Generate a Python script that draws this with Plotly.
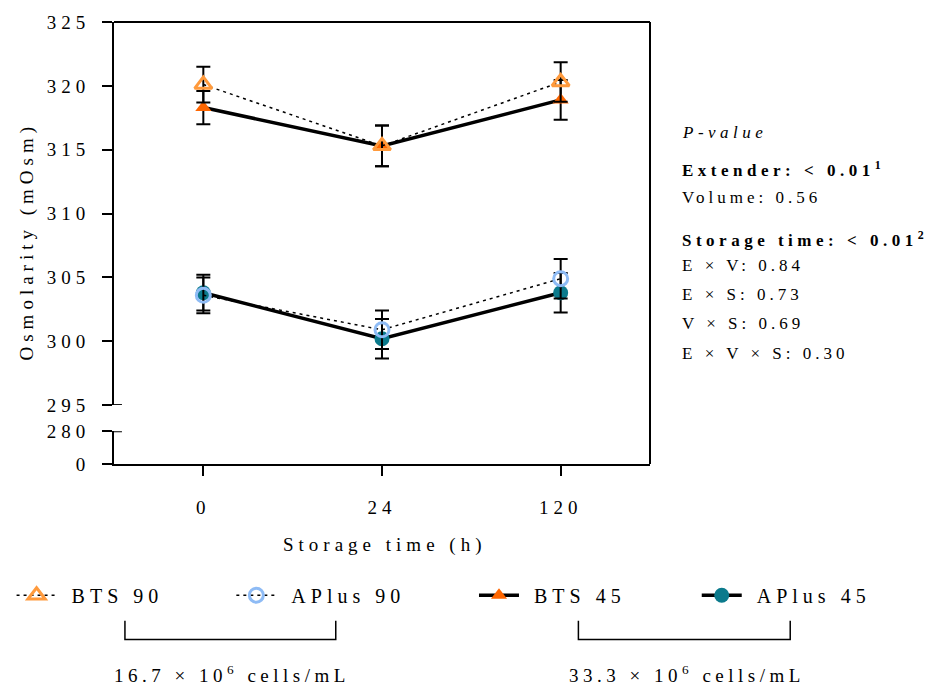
import plotly.graph_objects as go

# ---------------- data ----------------
times = ["0", "24", "120"]

bts90 = [320.1, 315.3, 320.3]
bts90_err = [1.4, 1.6, 1.55]
aplus90 = [303.6, 300.9, 304.9]
aplus90_err = [1.4, 1.5, 1.55]
bts45 = [318.3, 315.3, 318.9]
bts45_err = [1.3, 1.6, 1.55]
aplus45 = [303.8, 300.2, 303.8]
aplus45_err = [1.4, 1.55, 1.55]

upper_ticks = [295, 300, 305, 310, 315, 320, 325]
lower_ticks = [0, 280]

pvalue_lines = [
    "<i>P-value</i>",
    "<b>Extender: &lt; 0.01<sup>1</sup></b>",
    "Volume: 0.56",
    "<b>Storage time: &lt; 0.01<sup>2</sup></b>",
    "E × V: 0.84",
    "E × S: 0.73",
    "V × S: 0.69",
    "E × V × S: 0.30",
]
pvalue_spacing = [4.5, 4.5, 4, 4.5, 4, 4, 4, 4]
group_labels = ["16.7 × 10<sup>6</sup> cells/mL", "33.3 × 10<sup>6</sup> cells/mL"]

# ---------------- geometry helpers ----------------
W, H = 930, 689
ML, MR, MT, MB = 111, 280, 16, 225
PW, PH = W - ML - MR, H - MT - MB
FONT = "Liberation Serif"


def px(x):
    return (x - ML) / PW


def py(y):
    return (H - MB - y) / PH


def sp(text, s):
    return f'<span style="letter-spacing:{s}px">{text}</span>'


fig = go.Figure()

series = [
    ("BTS 45", bts45, bts45_err, "triangle-up", "#FF6600", "solid", 3.5, 14, 0, "legend3"),
    ("APlus 45", aplus45, aplus45_err, "circle", "#0B7A8C", "solid", 3.5, 15, 0, "legend4"),
    ("BTS 90", bts90, bts90_err, "triangle-up-open", "#FF9A3C", "3px,4px", 1.5, 15, 3, "legend"),
    ("APlus 90", aplus90, aplus90_err, "circle-open", "#8EBBF5", "3px,4px", 1.5, 14, 3, "legend2"),
]

for name, vals, errs, sym, col, dash, lw, msize, mlw, leg in series:
    fig.add_trace(go.Scatter(
        x=times, y=vals, name="\u00a0\u00a0" + sp(name, 5), legend=leg,
        mode="lines+markers",
        line=dict(color="black", width=lw, dash=dash),
        marker=dict(symbol=sym, size=msize, color=col,
                    line=dict(color=col, width=mlw)),
        error_y=dict(type="data", array=errs, visible=True,
                     color="black", thickness=2, width=7),
        xaxis="x", yaxis="y", showlegend=True,
    ))

axis_common = dict(
    showline=True, linewidth=2, linecolor="black",
    ticks="outside", ticklen=10, tickwidth=2, tickcolor="black",
    showgrid=False, zeroline=False,
    tickfont=dict(family=FONT, size=19, color="black"),
)

legend_common = dict(
    orientation="h", yanchor="middle", xanchor="left",
    bgcolor="rgba(0,0,0,0)", borderwidth=0, itemwidth=40,
    font=dict(family=FONT, size=20, color="black"),
)
leg_y = py(597)

shapes = [
    dict(type="line", xref="paper", yref="paper", x0=0, x1=1, y0=1, y1=1,
         line=dict(color="black", width=2)),
    dict(type="line", xref="paper", yref="paper", x0=1, x1=1, y0=0, y1=1,
         line=dict(color="black", width=2)),
    dict(type="line", xref="paper", yref="y", x0=0, x1=px(119), y0=295, y1=295,
         line=dict(color="black", width=2)),
    dict(type="line", xref="paper", yref="y2", x0=0, x1=px(119), y0=280, y1=280,
         line=dict(color="black", width=2)),
]
for xl, xr in [(122, 334), (578, 791)]:
    shapes.append(dict(
        type="path", xref="paper", yref="paper",
        path=f"M {px(xl)},{py(623)} L {px(xl)},{py(642)} L {px(xr)},{py(642)} L {px(xr)},{py(623)}",
        line=dict(color="black", width=1.5)))

annotations = [
    dict(text=sp("Osmolarity (mOsm)", 5), xref="paper", yref="paper",
         x=px(24), y=py(238), textangle=-90, showarrow=False,
         xanchor="center", yanchor="middle",
         font=dict(family=FONT, size=19, color="black")),
    dict(text=sp("Storage time (h)", 5), xref="paper", yref="paper",
         x=px(383), y=py(546), showarrow=False, xanchor="center", yanchor="middle",
         font=dict(family=FONT, size=19, color="black")),
]
pv_y = [128, 165, 194, 236, 263, 292, 322, 352]
for txt, yy, s in zip(pvalue_lines, pv_y, pvalue_spacing):
    annotations.append(dict(text=sp(txt, s), xref="paper", yref="paper",
                            x=px(680), y=py(yy), showarrow=False,
                            xanchor="left", yanchor="middle",
                            font=dict(family=FONT, size=17, color="black")))
for txt, xc in zip(group_labels, [230, 687]):
    annotations.append(dict(text=sp(txt, 4.5), xref="paper", yref="paper",
                            x=px(xc), y=py(677), showarrow=False,
                            xanchor="center", yanchor="middle",
                            font=dict(family=FONT, size=19, color="black")))

fig.update_layout(
    width=W, height=H,
    margin=dict(l=ML, r=MR, t=MT, b=MB),
    plot_bgcolor="white", paper_bgcolor="white",
    xaxis=dict(type="category", range=[-0.5, 2.5], anchor="y2",
               tickvals=times, ticktext=[sp(t, 5) for t in times],
               ticklabelstandoff=15, **axis_common),
    yaxis=dict(domain=[py(404.3), 1], range=[295, 325], anchor="x",
               tickvals=upper_ticks, ticktext=[sp(str(t), 5) for t in upper_ticks],
               ticklabelstandoff=8, **axis_common),
    yaxis2=dict(domain=[0, py(430.7)], range=[0, 280], anchor="x",
                tickvals=lower_ticks, ticktext=[sp(str(t), 5) for t in lower_ticks],
                ticklabelstandoff=8, **axis_common),
    legend=dict(x=px(8), y=leg_y, **legend_common),
    legend2=dict(x=px(229), y=leg_y, **legend_common),
    legend3=dict(x=px(473), y=leg_y, **legend_common),
    legend4=dict(x=px(697), y=leg_y, **legend_common),
    shapes=shapes,
    annotations=annotations,
    showlegend=True,
)

fig.write_html("out.html")
